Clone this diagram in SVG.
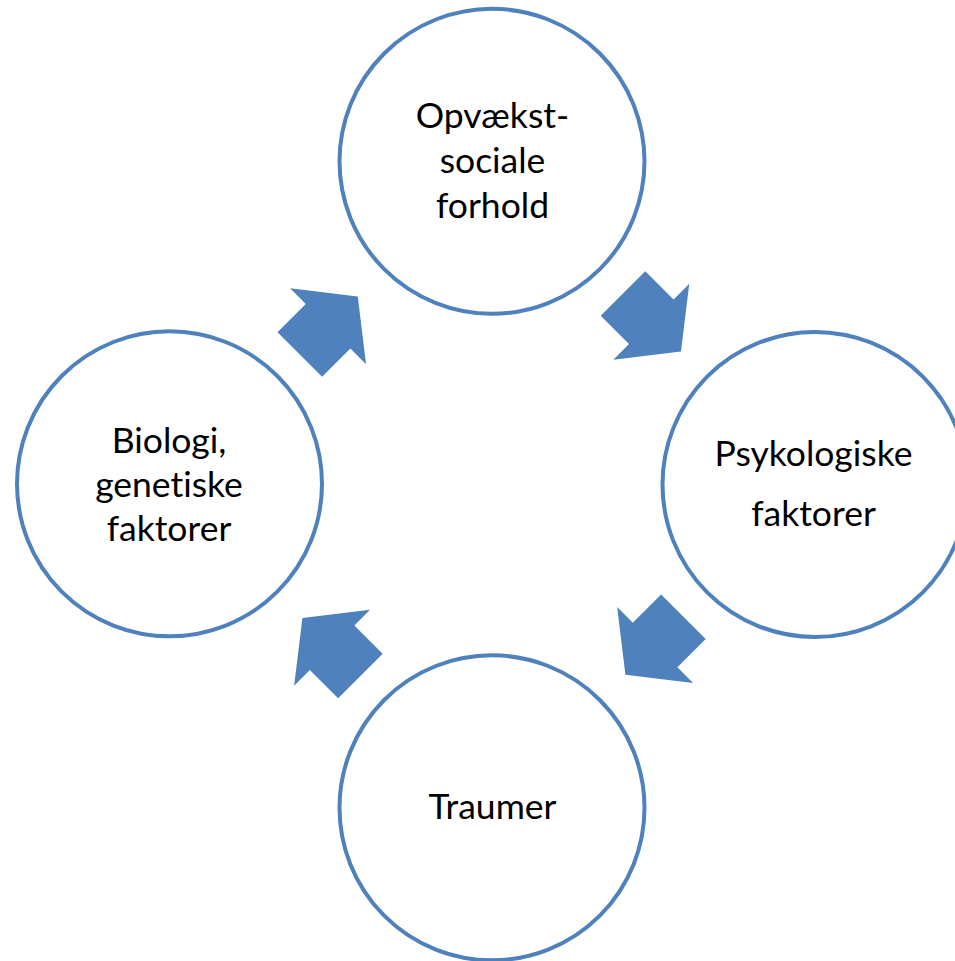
<svg xmlns="http://www.w3.org/2000/svg" xmlns:xlink="http://www.w3.org/1999/xlink" width="955" height="961" viewBox="0 0 955 961">
<style>
.ring{fill:#ffffff;stroke:#4f81bd;stroke-width:4}
.arrow{fill:#4f81bd}
.lbl{font-family:Lato,"Open Sans",sans-serif;font-size:35.5px;fill:#000000;text-anchor:middle;font-variant-ligatures:none;font-feature-settings:"liga" 0}
</style>
<defs>
<polygon id="arr" points="0,-31.5 40,-31.5 40,-53.7 82,0 40,53.7 40,31.5 0,31.5"/>
</defs>
<rect width="955" height="961" fill="#ffffff"/>
<g id="connectors">
<use xlink:href="#arr" class="arrow" transform="translate(299.8,354.5) rotate(-45)"/>
<use xlink:href="#arr" class="arrow" transform="translate(623,293.4) rotate(45)"/>
<use xlink:href="#arr" class="arrow" transform="translate(683.4,616.7) rotate(135)"/>
<use xlink:href="#arr" class="arrow" transform="translate(360.4,676) rotate(225)"/>
</g>
<g id="node-opvaekst">
<circle class="ring" cx="492" cy="161.3" r="152.5"/>
<text class="lbl" x="492.5" y="127.5">Opvækst-</text>
<text class="lbl" x="492.5" y="173">sociale</text>
<text class="lbl" x="492.5" y="218">forhold</text>
</g>
<g id="node-psykologiske">
<circle class="ring" cx="815" cy="484.5" r="152.5"/>
<text class="lbl" x="813.5" y="466">Psykologiske</text>
<text class="lbl" x="813.5" y="526">faktorer</text>
</g>
<g id="node-traumer">
<circle class="ring" cx="492" cy="807.8" r="152.5"/>
<text class="lbl" x="492.5" y="819.3">Traumer</text>
</g>
<g id="node-biologi">
<circle class="ring" cx="169.5" cy="483.8" r="152.5"/>
<text class="lbl" x="169" y="452.7">Biologi,</text>
<text class="lbl" x="169" y="496.7">genetiske</text>
<text class="lbl" x="169" y="540.7">faktorer</text>
</g>
</svg>
